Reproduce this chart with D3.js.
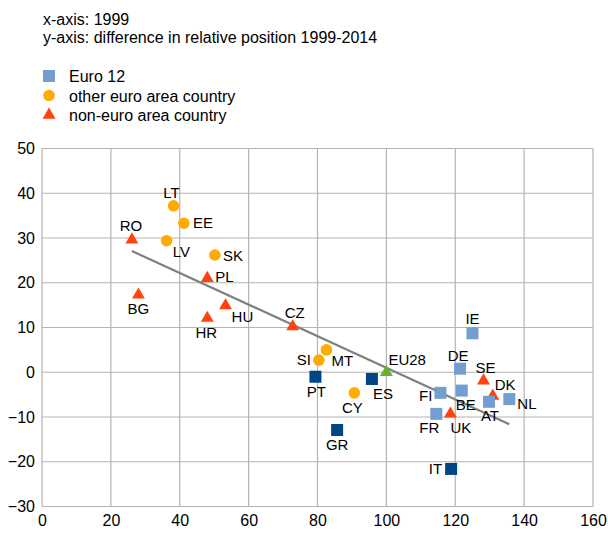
<!DOCTYPE html>
<html>
<head>
<meta charset="utf-8">
<script src="https://cdn.jsdelivr.net/npm/d3@7"></script>
<style>
  body { margin: 0; background: #fff; }
  text { font-family: "Liberation Sans", Arial, sans-serif; fill: #000; }
</style>
</head>
<body>
<script>
// Data: x = relative position 1999, y = change 1999-2014
const countries = ['LT', 'EE', 'LV', 'SK', 'RO', 'PL', 'BG', 'HU', 'HR', 'CZ', 'SI', 'MT', 'PT', 'ES',
    'EU28', 'CY', 'GR', 'FI', 'BE', 'DE', 'FR', 'UK', 'IE', 'IT', 'SE', 'DK', 'AT', 'NL'];
const groups = ['other', 'other', 'other', 'other', 'non', 'non', 'non', 'non', 'non', 'non', 'other', 'other', 'south', 'south',
    'eu28', 'other', 'south', 'euro12', 'euro12', 'euro12', 'euro12', 'non', 'euro12', 'south', 'non', 'non', 'euro12', 'euro12'];
const x1999 = [38.2, 41.2, 36.2, 50.2, 26.1, 48.0, 28.0, 53.3, 48.0, 72.8, 80.4, 82.6, 79.4, 95.8,
    100, 90.7, 85.7, 115.7, 121.9, 121.4, 114.5, 118.6, 125.0, 118.8, 128.2, 130.9, 129.8, 135.7];
const diffPos = [37.2, 33.3, 29.4, 26.2, 29.6, 21.0, 17.3, 14.9, 12.1, 10.2, 2.7, 5.0, -1.0, -1.5,
    0, -4.6, -12.9, -4.6, -4.1, 0.8, -9.3, -9.3, 8.7, -21.6, -1.9, -5.3, -6.6, -6.0];

// linear trend line
const trendSlope = -0.353;
const trendIntercept = 36.3;

const xTicks = [0, 20, 40, 60, 80, 100, 120, 140, 160];
const yTicks = [50, 40, 30, 20, 10, 0, -10, -20, -30];

const legendItems = [
    { label: 'Euro 12', group: 'euro12' },
    { label: 'other euro area country', group: 'other' },
    { label: 'non-euro area country', group: 'non' }
];

// label placement: [text-anchor, dx, dy] relative to the marker
const labelPos = {
    LT: ['middle', -2, -8], EE: ['start', 9, 5], LV: ['start', 6, 16], SK: ['start', 8, 6],
    RO: ['middle', -1, -9], PL: ['start', 8, 4], BG: ['middle', 0, 19], HU: ['start', 6, 16],
    HR: ['middle', -1, 20], CZ: ['middle', 2, -9], SI: ['end', -8, 5], MT: ['start', 5, 16],
    PT: ['middle', 1, 20], ES: ['start', 1, 20], EU28: ['start', 2, -7], CY: ['middle', -2, 20],
    GR: ['middle', 0, 20], FI: ['end', -8, 8], BE: ['start', -6, 19], DE: ['middle', -2, -8],
    FR: ['middle', -7, 19], UK: ['start', 0, 19], IE: ['middle', 0, -9], IT: ['end', -9, 5],
    SE: ['middle', 2, -8], DK: ['start', 2, -6], AT: ['middle', 1, 19], NL: ['start', 8, 10]
};

const colors = { euro12: '#729fcf', south: '#004586', other: '#ffab00', non: '#ff420e', eu28: '#66b32a' };
const shapes = { euro12: 'square', south: 'square', other: 'circle', non: 'triangle', eu28: 'triangle' };

const width = 608, height = 533;
const svg = d3.select('body').append('svg')
    .attr('width', width)
    .attr('height', height);

const x = d3.scaleLinear().domain([0, 160]).range([42, 593]);
const y = d3.scaleLinear().domain([-30, 50]).range([506.5, 148.5]);

// header text
svg.append('text').attr('x', 43).attr('y', 25).style('font-size', '16px').text('x-axis: 1999');
svg.append('text').attr('x', 43).attr('y', 43).style('font-size', '16px')
    .text('y-axis: difference in relative position 1999-2014');

function drawMarker(g, group, cx, cy) {
    const shape = shapes[group];
    if (shape === 'square') {
        g.append('rect')
            .attr('x', cx - 6).attr('y', cy - 6)
            .attr('width', 12).attr('height', 12)
            .attr('fill', colors[group]);
    } else if (shape === 'circle') {
        g.append('circle')
            .attr('cx', cx).attr('cy', cy).attr('r', 5.8)
            .attr('fill', colors[group]);
    } else {
        g.append('path')
            .attr('d', d3.symbol().type(d3.symbolTriangle).size(72)())
            .attr('transform', 'translate(' + cx + ',' + cy + ')')
            .attr('fill', colors[group]);
    }
}

// legend
const legend = svg.append('g').attr('class', 'legend');
legendItems.forEach((d, i) => {
    const ly = 76 + i * 19.5;
    drawMarker(legend, d.group, 49, ly);
    legend.append('text')
        .attr('x', 69).attr('y', ly + 6)
        .style('font-size', '16px')
        .text(d.label);
});

// gridlines
const grid = svg.append('g').attr('class', 'grid');
grid.selectAll('line.h')
    .data(yTicks)
    .enter().append('line')
    .attr('x1', x(0)).attr('x2', x(160))
    .attr('y1', d => y(d)).attr('y2', d => y(d))
    .attr('stroke', '#b3b3b3').attr('stroke-width', 1.2);
grid.selectAll('line.v')
    .data(xTicks)
    .enter().append('line')
    .attr('y1', y(-30)).attr('y2', y(50))
    .attr('x1', d => x(d)).attr('x2', d => x(d))
    .attr('stroke', '#b3b3b3').attr('stroke-width', 1.2);

// axes (labels only, lines come from the grid)
const yAxis = svg.append('g')
    .attr('transform', 'translate(' + x(0) + ',0)')
    .call(d3.axisLeft(y).tickValues(yTicks).tickSize(0).tickPadding(7).tickFormat(d3.format('d')));
const xAxis = svg.append('g')
    .attr('transform', 'translate(0,' + y(-30) + ')')
    .call(d3.axisBottom(x).tickValues(xTicks).tickSize(0).tickPadding(8).tickFormat(d3.format('d')));
[xAxis, yAxis].forEach(a => {
    a.select('.domain').remove();
    a.selectAll('text').style('font-size', '16px').style('font-family', '"Liberation Sans", Arial, sans-serif').attr('fill', '#000');
});

// trend line over the range of the data
const xExt = d3.extent(x1999);
svg.append('line')
    .attr('x1', x(xExt[0])).attr('y1', y(trendIntercept + trendSlope * xExt[0]))
    .attr('x2', x(xExt[1])).attr('y2', y(trendIntercept + trendSlope * xExt[1]))
    .attr('stroke', '#808080').attr('stroke-width', 2.2);

// points: triangles first, then circles, then squares
const order = { non: 0, eu28: 0, other: 1, euro12: 2, south: 2 };
const idx = d3.range(countries.length).sort((a, b) => order[groups[a]] - order[groups[b]]);
const pts = svg.append('g').attr('class', 'points');
idx.forEach(i => drawMarker(pts, groups[i], x(x1999[i]), y(diffPos[i])));

// country labels
const labels = svg.append('g').attr('class', 'labels');
countries.forEach((c, i) => {
    const p = labelPos[c];
    labels.append('text')
        .attr('x', x(x1999[i]) + p[1])
        .attr('y', y(diffPos[i]) + p[2])
        .attr('text-anchor', p[0])
        .style('font-size', '15px')
        .text(c);
});
</script>
</body>
</html>
